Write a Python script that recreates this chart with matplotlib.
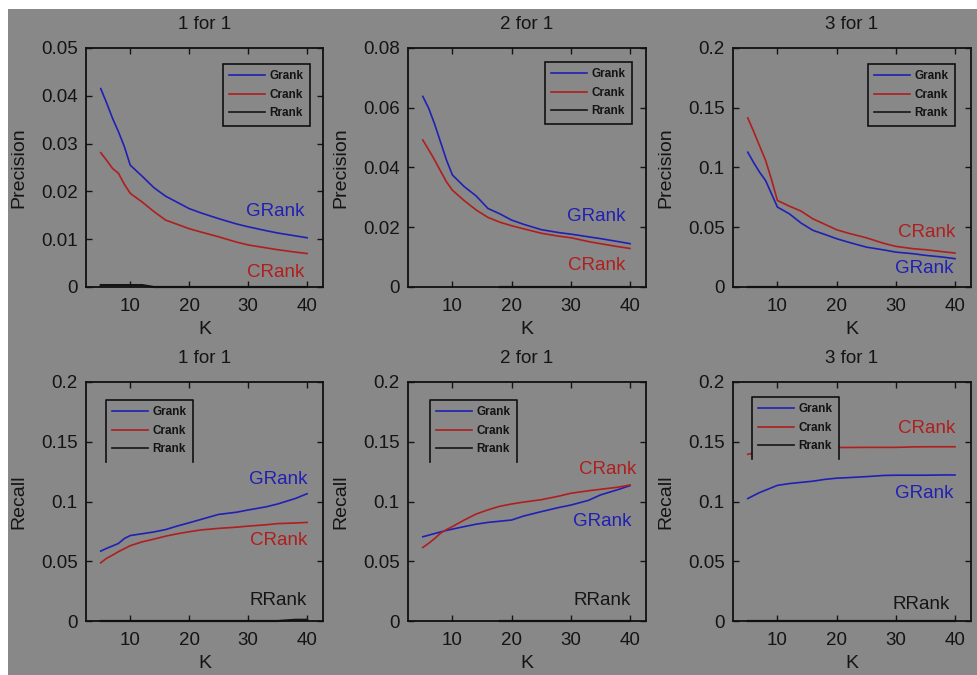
import matplotlib
matplotlib.use("Agg")
import matplotlib.pyplot as plt
import numpy as np
from matplotlib.patches import Rectangle
from matplotlib.lines import Line2D

plt.rcParams['font.family'] = ['Liberation Sans', 'DejaVu Sans']

K = [5, 6, 7, 8, 9, 10, 12, 14, 16, 18, 20, 22, 25, 28, 30, 33, 35, 38, 40]
nan = float('nan')

# Precision, 1 for 1
p1_g = [.0415, .0385, .0353, .0325, .0294, .0255, .0232, .0208, .0190, .0177, .0164, .0155, .0143, .0132, .0126, .0118, .0113, .0107, .0103]
p1_c = [.0281, .0265, .0248, .0238, .0215, .0196, .0178, .0158, .0140, .0131, .0122, .0115, .0105, .0094, .0088, .0082, .0078, .0073, .0070]
p1_r = [.0004, .0004, .0004, .0004, .0004, .0004, .0004, 0, 0, 0, 0, 0, 0, 0, 0, 0, 0, 0, 0]
# Precision, 2 for 1
p2_g = [.0638, .0598, .0545, .0485, .0425, .0375, .0336, .0305, .0263, .0245, .0224, .0210, .0192, .0182, .0177, .0168, .0162, .0152, .0145]
p2_c = [.0492, .0459, .0425, .0388, .0352, .0324, .0289, .0258, .0233, .0217, .0205, .0195, .0180, .0170, .0165, .0152, .0145, .0135, .0129]
p2_r = [nan, nan, nan, nan, nan, nan, nan, nan, nan, 0, 0, 0, 0, 0, 0, 0, 0, 0, 0]
# Precision, 3 for 1
p3_g = [.1128, .1040, .0960, .0891, .0780, .0669, .0613, .0535, .0474, .0440, .0404, .0375, .0334, .0310, .0292, .0278, .0265, .0250, .0237]
p3_c = [.1415, .1300, .1180, .1060, .0900, .0724, .0677, .0635, .0570, .0525, .0479, .0450, .0412, .0365, .0340, .0320, .0312, .0295, .0284]
p3_r = [0] * 19
# Recall, 1 for 1
r1_g = [.0585, .0608, .0628, .0649, .0690, .0715, .0730, .0745, .0765, .0795, .0822, .0850, .0892, .0910, .0929, .0955, .0979, .1025, .1065]
r1_c = [.0487, .0525, .0551, .0580, .0605, .0630, .0662, .0685, .0710, .0730, .0747, .0762, .0775, .0785, .0794, .0805, .0815, .0820, .0825]
r1_r = [0, 0, 0, 0, 0, 0, 0, 0, 0, 0, 0, 0, 0, 0, 0, 0, 0, .001, .001]
# Recall, 2 for 1
r2_g = [.0705, .0718, .0732, .0745, .0758, .0769, .0790, .0810, .0825, .0835, .0845, .0878, .0915, .0950, .0970, .1010, .1055, .1100, .1133]
r2_c = [.0615, .0650, .0690, .0735, .0765, .0790, .0845, .0895, .0930, .0960, .0979, .0995, .1015, .1045, .1069, .1090, .1102, .1120, .1138]
r2_r = [nan, nan, nan, nan, nan, nan, nan, nan, nan, 0, 0, 0, 0, 0, 0, 0, 0, 0, 0]
# Recall, 3 for 1
r3_g = [.1025, .1050, .1075, .1095, .1115, .1135, .1150, .1160, .1170, .1185, .1195, .1200, .1208, .1218, .1220, .1220, .1220, .1222, .1222]
r3_c = [.1395, .1405, .1415, .1425, .1435, .1440, .1448, .1450, .1450, .1451, .1452, .1452, .1453, .1453, .1453, .1457, .1458, .1458, .1458]
r3_r = [0] * 19

titles = ["1 for 1", "2 for 1", "3 for 1"]
series_names = ["Grank", "Crank", "Rrank"]
ann_names = ["GRank", "CRank", "RRank"]

panels = [
    dict(g=p1_g, c=p1_c, r=p1_r, ylim=0.05, yticks=[0, .01, .02, .03, .04, .05],
         ylab=["0", "0.01", "0.02", "0.03", "0.04", "0.05"], ylabel="Precision",
         ann=[(39.5, .0157, 'g'), (39.5, .0031, 'c')], leg=(223, 64), legframe=True),
    dict(g=p2_g, c=p2_c, r=p2_r, ylim=0.08, yticks=[0, .02, .04, .06, .08],
         ylab=["0", "0.02", "0.04", "0.06", "0.08"], ylabel="Precision",
         ann=[(39.3, .0235, 'g'), (39.3, .0073, 'c')], leg=(545, 62), legframe=True),
    dict(g=p3_g, c=p3_c, r=p3_r, ylim=0.2, yticks=[0, .05, .1, .15, .2],
         ylab=["0", "0.05", "0.1", "0.15", "0.2"], ylabel="Precision",
         ann=[(40.0, .0454, 'c'), (39.8, .0153, 'g')], leg=(868, 64), legframe=True),
    dict(g=r1_g, c=r1_c, r=r1_r, ylim=0.2, yticks=[0, .05, .1, .15, .2],
         ylab=["0", "0.05", "0.1", "0.15", "0.2"], ylabel="Recall",
         ann=[(40.0, .118, 'g'), (40.0, .0671, 'c'), (40.0, .0173, 'r')], leg=(106, 400), legframe=False),
    dict(g=r2_g, c=r2_c, r=r2_r, ylim=0.2, yticks=[0, .05, .1, .15, .2],
         ylab=["0", "0.05", "0.1", "0.15", "0.2"], ylabel="Recall",
         ann=[(41.0, .1264, 'c'), (40.2, .0836, 'g'), (40.2, .0168, 'r')], leg=(430, 400), legframe=False),
    dict(g=r3_g, c=r3_c, r=r3_r, ylim=0.2, yticks=[0, .05, .1, .15, .2],
         ylab=["0", "0.05", "0.1", "0.15", "0.2"], ylabel="Recall",
         ann=[(40.0, .161, 'c'), (39.7, .1064, 'g'), (39.2, .0139, 'r')], leg=(752, 397), legframe=False),
]

W, H = 977, 675
BG = '#888888'
TXT = '#141414'
colors = {'g': '#2020b4', 'c': '#b01e1e', 'r': '#151515'}
legcolors = ['#2020b4', '#b01e1e', '#151515']

fig = plt.figure(figsize=(W / 100, H / 100), dpi=100, facecolor='white')
fig.patches.append(Rectangle((8 / W, 0), 1 - 8 / W, 1 - 9 / H, transform=fig.transFigure,
                             facecolor=BG, edgecolor='none', zorder=-10))

lefts = [86, 408, 733]
rights = [323, 646, 971]
tops = [48, 382]
bottoms = [287, 621]

legends = []
for i, p in enumerate(panels):
    row, col = divmod(i, 3)
    l, r_ = lefts[col], rights[col]
    t, b = tops[row], bottoms[row]
    ax = fig.add_axes([l / W, 1 - b / H, (r_ - l) / W, (b - t) / H])
    ax.set_facecolor(BG)
    ax.plot(K, p['g'], color=colors['g'], lw=1.2)
    ax.plot(K, p['c'], color=colors['c'], lw=1.2)
    ax.plot(K, p['r'], color=colors['r'], lw=1.6, clip_on=False)
    ax.set_xlim(2.5, 42.7)
    ax.set_ylim(0, p['ylim'])
    ax.set_xticks([10, 20, 30, 40])
    ax.set_xticklabels(["10", "20", "30", "40"])
    ax.set_yticks(p['yticks'])
    ax.set_yticklabels(p['ylab'])
    ax.tick_params(direction='in', top=True, right=True, length=4, width=1.0,
                   labelsize=13.5, colors=TXT)
    ax.tick_params(axis='x', pad=8)
    ax.tick_params(axis='y', pad=6)
    for s in ax.spines.values():
        s.set_color('#101010')
        s.set_linewidth(1.3)
    ax.set_title(titles[col], fontsize=13.5, color=TXT, pad=14)
    ax.set_xlabel("K", fontsize=14, color=TXT, labelpad=4)
    ax.set_ylabel(p['ylabel'], fontsize=14, color=TXT, labelpad=10)
    for (x, y, key) in p['ann']:
        ax.text(x, y, ann_names['gcr'.index(key)], color=colors[key], fontsize=13.5,
                ha='right', va='center')
    handles = [Line2D([], [], color=c, lw=1.2) for c in legcolors]
    lx, ly = p['leg']
    leg = ax.legend(handles, series_names, loc='upper left',
                    bbox_to_anchor=(lx / W, 1 - ly / H), bbox_transform=fig.transFigure,
                    prop={'size': 8.5, 'weight': 'bold'}, frameon=True, fancybox=False,
                    handlelength=3.0, handletextpad=0.35, borderpad=0.55, labelspacing=0.55,
                    borderaxespad=0, framealpha=1)
    frame = leg.get_frame()
    frame.set_facecolor(BG)
    frame.set_linewidth(1.2)
    frame.set_edgecolor('#101010' if p['legframe'] else 'none')
    for txt in leg.get_texts():
        txt.set_color(TXT)
    legends.append((leg, p['legframe']))

# bottom-row legends: frame drawn without its bottom edge
fig.canvas.draw()
for leg, full in legends:
    if full:
        continue
    bb = leg.get_frame().get_window_extent()
    x0, y0, x1, y1 = bb.x0 / W, bb.y0 / H, bb.x1 / W, bb.y1 / H
    fig.add_artist(Line2D([x0, x0, x1, x1], [y0, y1, y1, y0], transform=fig.transFigure,
                          color='#101010', lw=1.2, zorder=10))

fig.savefig("out.png", dpi=100, facecolor='white')
